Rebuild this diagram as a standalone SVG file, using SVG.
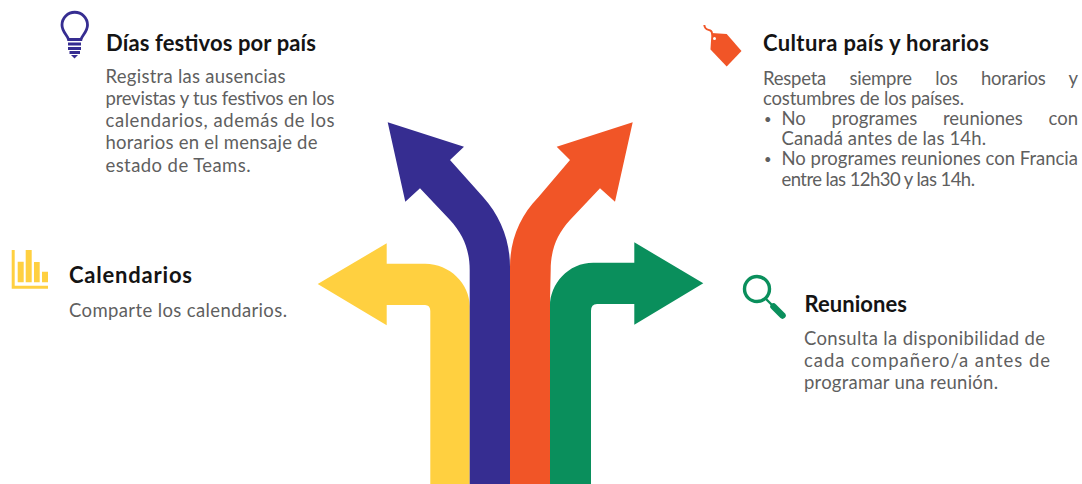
<svg xmlns="http://www.w3.org/2000/svg" width="1082" height="484" viewBox="0 0 1082 484">
<style>
text{font-family:"Lato","Liberation Sans",sans-serif}
.t{font-size:22px;font-weight:700;fill:#141414}
.b{font-size:18.5px;fill:#5f5f5f}
.d{font-size:13px;fill:#5f5f5f}
.blue{fill:#362D91}.orange{fill:#F15527}.yellow{fill:#FFD040}.green{fill:#0A8F5C}
</style>
<rect width="1082" height="484" fill="#fff"/>
<g id="connectors">
<path class="yellow" d="M317.7 284L386.7 243.3V263.7H425C450 263.7 469.7 284 469.7 306V484H430.3V311Q430.3 305 425 305H386.7V325.3Z"/>
<path class="green" d="M703.3 283.3L634.3 242.3V262.7H593.3C568 262.7 550 284 550 306V484H591V311Q591 304 597 304H634.3V324.7Z"/>
<path class="orange" d="M632.7 122.3L556.7 146.7L570 160L538.3 197.3C520 216 510 240 510 266.7V484H550V300L550.7 270C550.7 250 557 234 570 220L600 188.3L615 201.7Z"/>
<path class="blue" d="M387.7 122.3L464 146.7L450 160L483.3 197.3C500 216 510 240 510 266.7V484H469.7V270C469.7 250 463 234 450 220L420 188.3L405.3 201.7Z"/>
</g>
<g id="dias-festivos">
<g fill="none" stroke="#362D91" stroke-width="2.8">
<path d="M68.5 39.5C67.5 35 62 32 62 25A12.7 12.7 0 0 1 87.5 25C87.5 32 82 35 81 39.5Z"/>
<path d="M68 44H81M68 48.5H81M69.5 52.5H80"/>
</g>
<path class="blue" d="M71 55H78L74.5 58.5Z"/>
<text class="t" x="106" y="51" textLength="210">Días festivos por país</text>
<text class="b" x="105.5" y="83" textLength="180">Registra las ausencias</text>
<text class="b" x="105.5" y="105" textLength="229">previstas y tus festivos en los</text>
<text class="b" x="105.5" y="127" textLength="229">calendarios, además de los</text>
<text class="b" x="105.5" y="149" textLength="212">horarios en el mensaje de</text>
<text class="b" x="105.5" y="171.5" textLength="145">estado de Teams.</text>
</g>
<g id="calendarios">
<path class="yellow" d="M11.7 250H14.7V285.7H48V288.7H11.7ZM17.7 261.7H23.7V282.3H17.7ZM25.7 250H31.7V282.3H25.7ZM34 262H39.7V282.3H34ZM42 271.7H48V282.3H42Z"/>
<text class="t" x="69" y="282.5" textLength="123">Calendarios</text>
<text class="b" x="69" y="316.5" textLength="218">Comparte los calendarios.</text>
</g>
<g id="cultura">
<path fill="none" stroke="#F15527" stroke-width="2" d="M704.3 25C705 31 709 29 711 31C713 33 711 35 714 36"/>
<path class="orange" d="M711.5 33L726.7 34L741.5 51L726.7 66.5L710.5 49.5Z"/>
<circle cx="714.5" cy="38.5" r="1.5" fill="#fff"/>
<text class="t" x="763" y="50.5" textLength="226">Cultura país y horarios</text>
<text class="b" x="763" y="85" word-spacing="19" textLength="315">Respeta siempre los horarios y</text>
<text class="b" x="763" y="105" textLength="201">costumbres de los países.</text>
<text class="d" x="764" y="124">•</text>
<text class="b" x="781.5" y="125" word-spacing="21" textLength="296.5">No programes reuniones con</text>
<text class="b" x="781.5" y="145" textLength="204.5">Canadá antes de las 14h.</text>
<text class="d" x="764" y="164">•</text>
<text class="b" x="781.5" y="165" textLength="296.5">No programes reuniones con Francia</text>
<text class="b" x="781.5" y="185.5" textLength="193.5">entre las 12h30 y las 14h.</text>
</g>
<g id="reuniones">
<circle cx="757" cy="289" r="12.5" fill="none" stroke="#0A8F5C" stroke-width="3.4"/>
<path fill="none" stroke="#0A8F5C" stroke-width="2.4" d="M765 298L772 305"/>
<path fill="none" stroke="#0A8F5C" stroke-width="6.5" stroke-linecap="round" d="M773.5 306.5L782.5 315.5"/>
<text class="t" x="804.5" y="311.5" textLength="102.5">Reuniones</text>
<text class="b" x="804" y="345" textLength="241">Consulta la disponibilidad de</text>
<text class="b" x="804" y="367" textLength="246">cada compañero/a antes de</text>
<text class="b" x="804" y="389" textLength="194">programar una reunión.</text>
</g>
</svg>
